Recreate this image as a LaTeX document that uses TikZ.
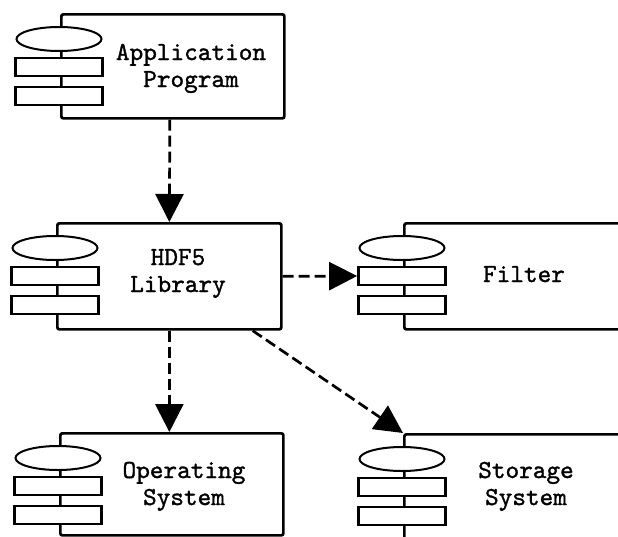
\documentclass[tikz,border=0pt]{standalone}
\usepackage{fontspec}
\newfontfamily\monof[FakeBold=1.2]{lmmono10-regular.otf}
\usetikzlibrary{arrows.meta,calc,shapes.geometric}
\tikzset{
  compbox/.style={draw, line width=2.7pt, rounded corners=2pt, fill=white, inner sep=0pt, anchor=north west},
  ell/.style={draw, ellipse, line width=2pt, fill=white, minimum width=85pt, minimum height=24pt, inner sep=0pt},
  bar/.style={draw, rectangle, line width=2.7pt, fill=white, minimum width=87pt, minimum height=18pt, inner sep=0pt},
  lbl/.style={align=center, inner sep=0pt, font=\monof\fontsize{26}{27}\selectfont, anchor=base},
  dep/.style={line width=2.7pt, dash pattern=on 11pt off 5pt, -{Triangle[width=28pt,length=28pt]}},
  icon/.pic={
    \node[ell] (-e) at (-1,26) {};
    \node[bar] (-r1) at (-1,54) {};
    \node[bar] (-r2) at (-1,83) {};
  }
}
\begin{document}
\begin{tikzpicture}[x=1pt,y=-1pt]
\useasboundingbox (0,0) rectangle (618,536);
\node[compbox, minimum width=223pt, minimum height=104pt] (app) at (60,13) {};
\node[compbox, minimum width=224pt, minimum height=106pt] (hdf) at (56,222) {};
\node[compbox, minimum width=240pt, minimum height=106pt] (filt) at (403,222) {};
\node[compbox, minimum width=223pt, minimum height=102pt] (os) at (59,432) {};
\node[compbox, minimum width=240pt, minimum height=120pt] (stor) at (403,433) {};
\pic (appi) at (app.north west) {icon};
\pic (hdfi) at (hdf.north west) {icon};
\pic (filti) at (filt.north west) {icon};
\pic (osi) at (os.north west) {icon};
\pic (stori) at (stor.north west) {icon};
\node[lbl] (appt) at (191,87) {Application\\Program};
\node[lbl] (hdft) at (178,292) {HDF5\\Library};
\node[lbl] (filtt) at (524,282) {Filter};
\node[lbl] (ost) at (184,505) {Operating\\System};
\node[lbl] (stort) at (526,505) {Storage\\System};
\draw[dep] ($(app.south)+(-3,0)$) -- (hdf.north);
\draw[dep] (hdf.east) -- (filti-r1.west);
\draw[dep] (hdf.south) -- (os.north -| hdf.south);
\draw[dep] ($(hdf.south east)+(-30,0)$) -- (stor.north west);
\end{tikzpicture}
\end{document}
